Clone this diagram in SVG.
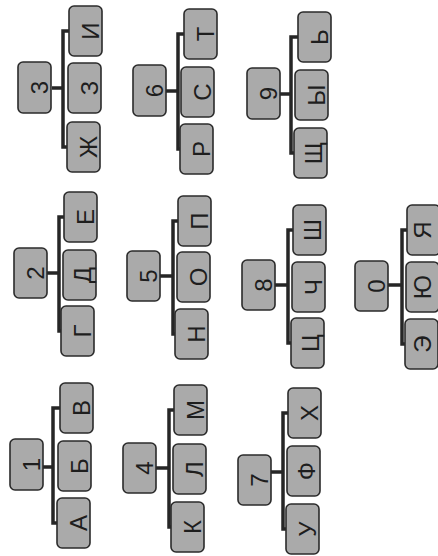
<svg xmlns="http://www.w3.org/2000/svg" width="438" height="556" viewBox="0 0 438 556">
<style>
.k{fill:#aaaaaa;stroke:#2b2b2b;stroke-width:1.6}
.t{font-family:"Liberation Sans",Arial,sans-serif;font-size:24px;fill:#1e1e1e;text-anchor:middle}
.c{fill:none;stroke:#262626;stroke-width:3.5;stroke-linejoin:miter}
</style>
<rect width="438" height="556" fill="#ffffff"/>
<g id="connectors">
<path class="c" d="M52,88 H63 M72,31 H63 V147 H70"/>
<path class="c" d="M166,91 H178 M187,34 H178 V149 H183"/>
<path class="c" d="M280,94 H291 M301,37 H291 V153 H297"/>
<path class="c" d="M47,273 H59 M67,217 H59 V331 H64"/>
<path class="c" d="M160,276 H173 M181,221 H173 V334 H178"/>
<path class="c" d="M275,285 H288 M296,230 H288 V343 H294"/>
<path class="c" d="M388,285 H402 M410,230 H402 V344 H408"/>
<path class="c" d="M43,467 H53 M63,408 H53 V523 H60"/>
<path class="c" d="M156,468 H169 M177,410 H169 V527 H174"/>
<path class="c" d="M271,472 H283 M291,413 H283 V529 H289"/>
</g>
<g id="g3">
<rect class="k" x="18" y="62" width="33" height="51" rx="5"/><text class="t" transform="translate(48,87.5) rotate(-90)">3</text>
<rect class="k" x="69" y="6" width="33" height="50" rx="5"/><text class="t" transform="translate(99,31) rotate(-90)">И</text>
<rect class="k" x="68" y="63" width="33" height="50" rx="5"/><text class="t" transform="translate(98,88) rotate(-90)">З</text>
<rect class="k" x="67" y="122" width="33" height="50" rx="5"/><text class="t" transform="translate(97,147) rotate(-90)">Ж</text>
</g>
<g id="g6">
<rect class="k" x="133" y="65" width="33" height="51" rx="5"/><text class="t" transform="translate(163,90.5) rotate(-90)">6</text>
<rect class="k" x="184" y="9" width="33" height="50" rx="5"/><text class="t" transform="translate(214,34) rotate(-90)">Т</text>
<rect class="k" x="181" y="67" width="33" height="50" rx="5"/><text class="t" transform="translate(211,92) rotate(-90)">С</text>
<rect class="k" x="180" y="124" width="33" height="50" rx="5"/><text class="t" transform="translate(210,149) rotate(-90)">Р</text>
</g>
<g id="g9">
<rect class="k" x="247" y="68" width="33" height="51" rx="5"/><text class="t" transform="translate(277,93.5) rotate(-90)">9</text>
<rect class="k" x="298" y="12" width="33" height="50" rx="5"/><text class="t" transform="translate(328,37) rotate(-90)">Ь</text>
<rect class="k" x="295" y="70" width="33" height="50" rx="5"/><text class="t" transform="translate(325,95) rotate(-90)">Ы</text>
<rect class="k" x="294" y="128" width="33" height="50" rx="5"/><text class="t" transform="translate(322,153) rotate(-90)">Щ</text>
</g>
<g id="g2">
<rect class="k" x="14" y="248" width="33" height="50" rx="5"/><text class="t" transform="translate(44,273) rotate(-90)">2</text>
<rect class="k" x="64" y="192" width="33" height="50" rx="5"/><text class="t" transform="translate(94,217) rotate(-90)">Е</text>
<rect class="k" x="63" y="250" width="33" height="50" rx="5"/><text class="t" transform="translate(91,275) rotate(-90)">Д</text>
<rect class="k" x="61" y="306" width="33" height="50" rx="5"/><text class="t" transform="translate(91,331) rotate(-90)">Г</text>
</g>
<g id="g5">
<rect class="k" x="127" y="251" width="33" height="50" rx="5"/><text class="t" transform="translate(157,276) rotate(-90)">5</text>
<rect class="k" x="178" y="196" width="33" height="50" rx="5"/><text class="t" transform="translate(208,221) rotate(-90)">П</text>
<rect class="k" x="177" y="252" width="33" height="50" rx="5"/><text class="t" transform="translate(207,277) rotate(-90)">О</text>
<rect class="k" x="175" y="309" width="33" height="50" rx="5"/><text class="t" transform="translate(205,334) rotate(-90)">Н</text>
</g>
<g id="g8">
<rect class="k" x="242" y="260" width="33" height="50" rx="5"/><text class="t" transform="translate(272,285) rotate(-90)">8</text>
<rect class="k" x="293" y="205" width="33" height="50" rx="5"/><text class="t" transform="translate(321,230) rotate(-90)">Ш</text>
<rect class="k" x="292" y="262" width="33" height="50" rx="5"/><text class="t" transform="translate(322,287) rotate(-90)">Ч</text>
<rect class="k" x="291" y="318" width="33" height="50" rx="5"/><text class="t" transform="translate(319,343) rotate(-90)">Ц</text>
</g>
<g id="g0">
<rect class="k" x="355" y="261" width="33" height="50" rx="5"/><text class="t" transform="translate(385,286) rotate(-90)">0</text>
<rect class="k" x="407" y="205" width="33" height="50" rx="5"/><text class="t" transform="translate(431,230) rotate(-90)">Я</text>
<rect class="k" x="406" y="262" width="33" height="50" rx="5"/><text class="t" transform="translate(431,287) rotate(-90)">Ю</text>
<rect class="k" x="405" y="319" width="33" height="50" rx="5"/><text class="t" transform="translate(431,344) rotate(-90)">Э</text>
</g>
<g id="g1">
<rect class="k" x="10" y="439" width="33" height="51" rx="5"/><text class="t" transform="translate(40,464.5) rotate(-90)">1</text>
<rect class="k" x="60" y="383" width="33" height="50" rx="5"/><text class="t" transform="translate(90,408) rotate(-90)">В</text>
<rect class="k" x="58" y="441" width="33" height="50" rx="5"/><text class="t" transform="translate(88,466) rotate(-90)">Б</text>
<rect class="k" x="57" y="498" width="33" height="50" rx="5"/><text class="t" transform="translate(87,523) rotate(-90)">А</text>
</g>
<g id="g4">
<rect class="k" x="123" y="443" width="33" height="50" rx="5"/><text class="t" transform="translate(153,468) rotate(-90)">4</text>
<rect class="k" x="174" y="385" width="33" height="50" rx="5"/><text class="t" transform="translate(204,410) rotate(-90)">М</text>
<rect class="k" x="173" y="444" width="33" height="50" rx="5"/><text class="t" transform="translate(203,469) rotate(-90)">Л</text>
<rect class="k" x="171" y="502" width="33" height="50" rx="5"/><text class="t" transform="translate(201,527) rotate(-90)">К</text>
</g>
<g id="g7">
<rect class="k" x="238" y="455" width="33" height="50" rx="5"/><text class="t" transform="translate(268,480) rotate(-90)">7</text>
<rect class="k" x="288" y="388" width="33" height="50" rx="5"/><text class="t" transform="translate(318,413) rotate(-90)">Х</text>
<rect class="k" x="287" y="446" width="33" height="50" rx="5"/><text class="t" transform="translate(315,471) rotate(-90)">Ф</text>
<rect class="k" x="286" y="504" width="33" height="50" rx="5"/><text class="t" transform="translate(316,529) rotate(-90)">У</text>
</g>
</svg>
